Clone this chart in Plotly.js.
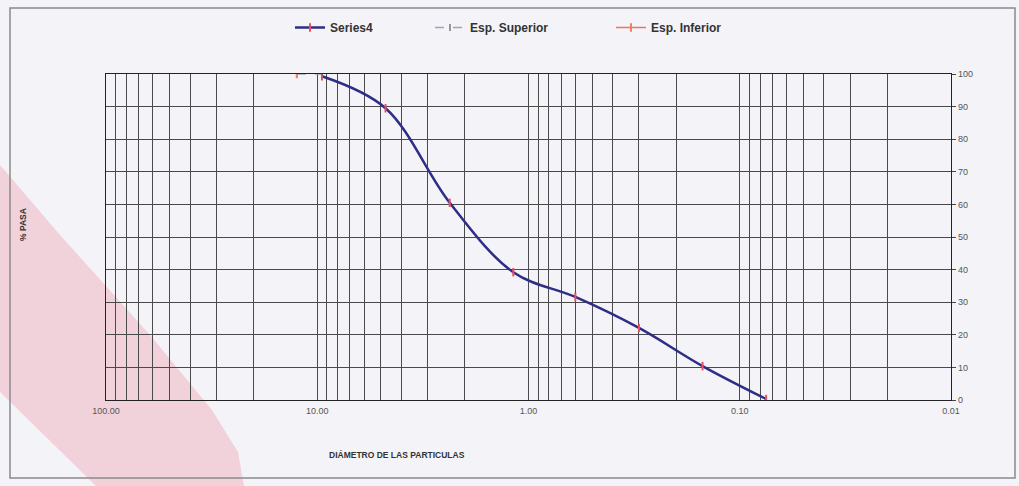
<!DOCTYPE html>
<html>
<head>
<meta charset="utf-8">
<script src="https://cdn.plot.ly/plotly-3.0.1.min.js"></script>
<style>html,body{margin:0;padding:0;background:#f3f3f8;}#chart{width:1019px;height:486px;}</style>
</head>
<body>
<div id="chart"></div>
<script>
// ---- data ----
const sieveSizes = [9.5, 4.75, 2.36, 1.18, 0.6, 0.3, 0.15, 0.075];
const series4 = [99.3, 89.5, 60.5, 39.2, 31.6, 22.1, 10.4, 0.3];
const espSupSizes = [12.5, 9.5];
const espSuperior = [100, 100];
const espInfSizes = [12.5];
const espInferior = [100];
const gridVals = [100,90,80,70,60,50,40,30,20,10,9,8,7,6,5,4,3,2,1,0.9,0.8,0.7,0.6,0.5,0.4,0.3,0.2,0.1,0.09,0.08,0.07,0.06,0.05,0.04,0.03,0.02,0.01];
const majorLabels = {"100":"100.00","10":"10.00","1":"1.00","0.1":"0.10","0.01":"0.01"};
const gridText = gridVals.map(v => majorLabels[String(v)] || "");
const yTicks = [0,10,20,30,40,50,60,70,80,90,100];

// ---- layout helpers ----
const W = 1019, H = 486;
const M = {l:106, r:68, t:74, b:86};
const pw = W - M.l - M.r, ph = H - M.t - M.b;
const px = x => (x - M.l) / pw;
const py = y => 1 - (y - M.t) / ph;

const legFont = {family:'Liberation Sans, Arial, sans-serif', size:12, color:'#333', weight:'bold'};

const traces = [
  {x: sieveSizes, y: series4, name:'Series4', type:'scatter', mode:'lines+markers',
   line:{color:'#2e2e86', width:2.5, shape:'spline', smoothing:1},
   marker:{symbol:'line-ns-open', size:6, color:'#e8505e', line:{color:'#e8505e', width:2}},
   legend:'legend'},
  {x: espSupSizes, y: espSuperior, name:'Esp. Superior', type:'scatter', mode:'lines+markers',
   line:{color:'#9aa6c0', width:1.5, dash:'dash'},
   marker:{symbol:'line-ns-open', size:5, color:'#777', line:{color:'#777', width:1.5}},
   legend:'legend2'},
  {x: espInfSizes, y: espInferior, name:'Esp. Inferior', type:'scatter', mode:'lines+markers',
   line:{color:'#f07070', width:1.5},
   marker:{symbol:'line-ns-open', size:6, color:'#f08060', line:{color:'#f08a60', width:2}},
   legend:'legend3'}
];

function leg(xpix){
  return {xref:'container', yref:'container', x: xpix / W, y: 1 - 13 / H,
    xanchor:'left', yanchor:'top', orientation:'h', bgcolor:'rgba(0,0,0,0)',
    font: legFont, itemwidth:30};
}

const pinkPath = 'M ' + [[0,165],[60,235],[150,335],[212,410],[238,452],[244,486],[96,486],[0,392]]
  .map(p => px(p[0]).toFixed(4) + ',' + py(p[1]).toFixed(4)).join(' L ') + ' Z';

const layout = {
  width: W, height: H,
  margin: M,
  paper_bgcolor: '#f3f3f8',
  plot_bgcolor: 'rgba(0,0,0,0)',
  showlegend: true,
  legend: leg(290),
  legend2: leg(430),
  legend3: leg(611),
  xaxis: {
    type:'log', range:[2, -2], tickmode:'array', tickvals: gridVals, ticktext: gridText,
    showgrid:true, gridcolor:'#4a4a4a', gridwidth:1, zeroline:false,
    showline:true, linecolor:'#222', linewidth:1.2, mirror:true, ticks:'',
    tickfont:{family:'Liberation Sans, Arial, sans-serif', size:9, color:'#555'}, ticklabelstandoff:2
  },
  yaxis: {
    side:'right', range:[0,100], tickmode:'array', tickvals: yTicks,
    showgrid:true, gridcolor:'#4a4a4a', gridwidth:1, zeroline:false,
    showline:true, linecolor:'#222', linewidth:1.2, mirror:true,
    ticks:'outside', ticklen:4, tickcolor:'#444',
    tickfont:{family:'Liberation Sans, Arial, sans-serif', size:9, color:'#555'}
  },
  annotations: [
    {text:'DIÁMETRO DE LAS PARTICULAS', xref:'paper', yref:'paper', x: px(397), y: py(455),
     showarrow:false, xanchor:'center', yanchor:'middle',
     font:{family:'Liberation Sans, Arial, sans-serif', size:8.5, color:'#333', weight:'bold'}},
    {text:'% PASA', xref:'paper', yref:'paper', x: px(23), y: py(225), textangle:-90,
     showarrow:false, xanchor:'center', yanchor:'middle',
     font:{family:'Liberation Sans, Arial, sans-serif', size:8.5, color:'#333', weight:'bold'}}
  ],
  shapes: [
    {type:'path', xref:'paper', yref:'paper', path: pinkPath, layer:'below',
     fillcolor:'rgba(238,160,175,0.4)', line:{width:0}},
    {type:'rect', xref:'paper', yref:'paper', x0: px(10), x1: px(1015), y0: py(8), y1: py(478),
     line:{color:'#8a8a8a', width:1.5}, fillcolor:'rgba(0,0,0,0)', layer:'below'}
  ]
};

Plotly.newPlot('chart', traces, layout, {displayModeBar:false, staticPlot:true});
</script>
</body>
</html>
